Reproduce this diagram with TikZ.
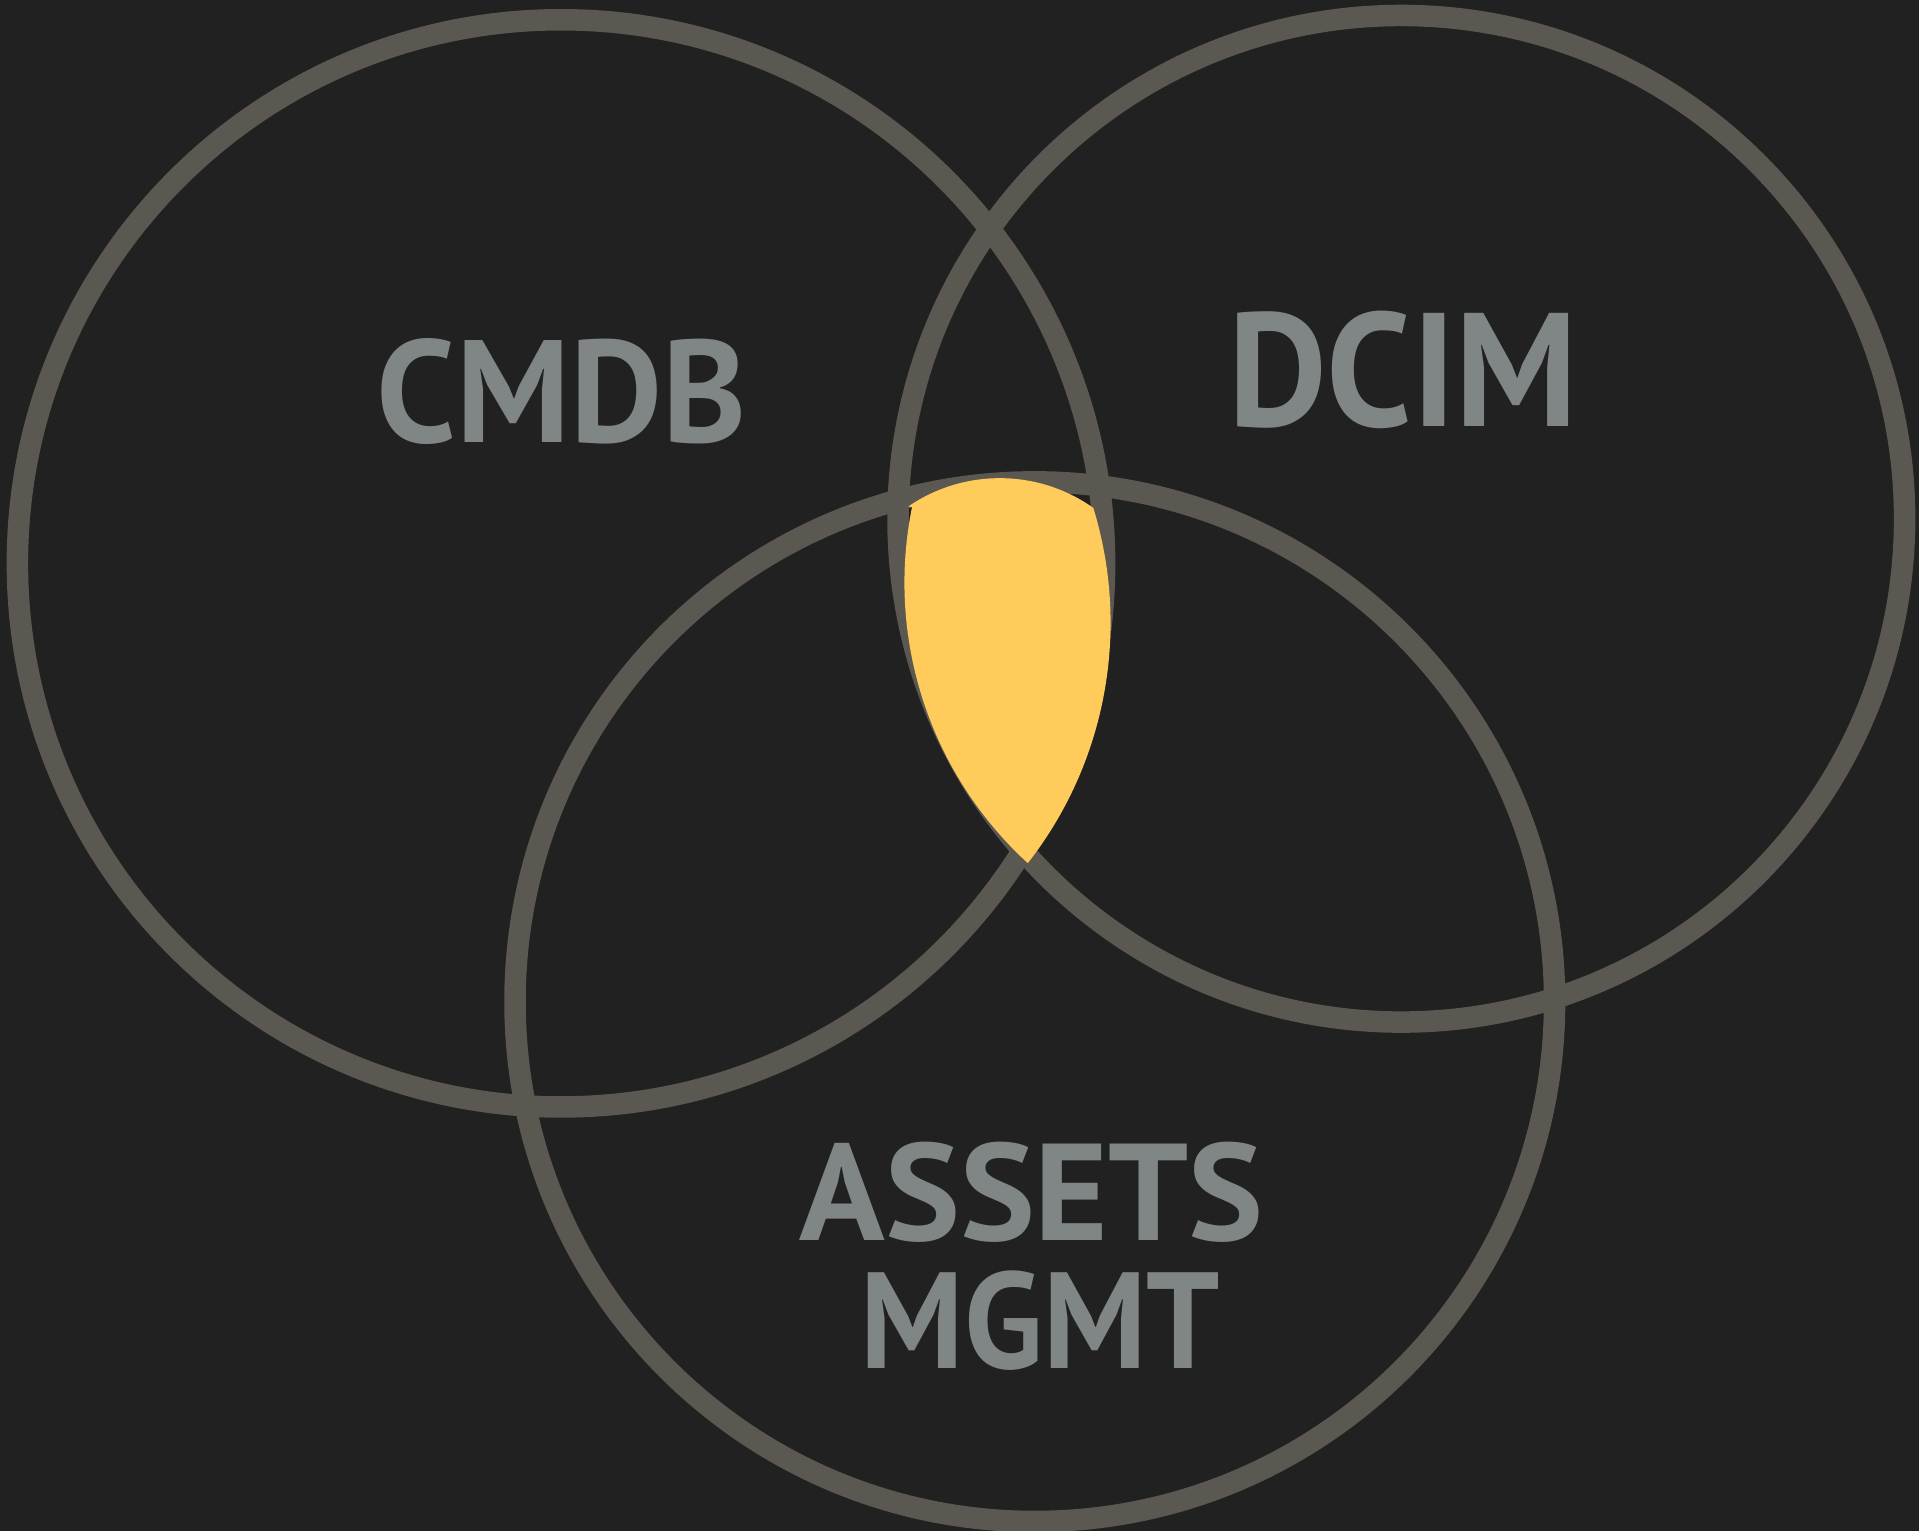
\documentclass[tikz,border=0pt]{standalone}
\usepackage{graphicx}
\usepackage{fontspec}
\setmainfont{PT Sans}
\definecolor{bgc}{RGB}{33,33,33}
\definecolor{ringc}{RGB}{91,88,82}
\definecolor{hilite}{RGB}{255,203,90}
\definecolor{labelc}{RGB}{128,133,133}
\tikzset{
  ring/.style={draw=ringc, line width=0.215cm},
  lbl/.style={text=labelc, inner sep=0pt, anchor=center, font=\bfseries}
}
\begin{document}
\begin{tikzpicture}
\useasboundingbox (0,0) rectangle (19.19,15.31);
\fill[bgc] (0,0) rectangle (19.19,15.31);
% circles
\draw[ring] (5.61,9.676) circle[radius=5.436cm];
\draw[ring] (14.013,10.122) circle[radius=5.033cm];
\draw[ring] (10.348,5.293) circle[radius=5.198cm];
% highlighted centre
\fill[hilite] (9.083,10.245)
  arc[start angle=124.4, end angle=54.7, radius=1.619cm]
  arc[start angle=17.1, end angle=-38.0, radius=3.905cm]
  arc[start angle=-132.5, end angle=-191.5, radius=3.803cm]
  -- cycle;
% labels
\node[lbl] (cmdb) at (5.618,11.39) {\resizebox{3.70cm}{1.04cm}{CMDB}};
\node[lbl] (dcim) at (14.031,11.61) {\resizebox{3.50cm}{1.154cm}{DCIM}};
\node[lbl] (assets) at (10.317,3.385) {\resizebox{4.64cm}{0.984cm}{ASSETS}};
\node[lbl] (mgmt) at (10.405,2.105) {\resizebox{3.59cm}{0.977cm}{MGMT}};
\end{tikzpicture}
\end{document}
